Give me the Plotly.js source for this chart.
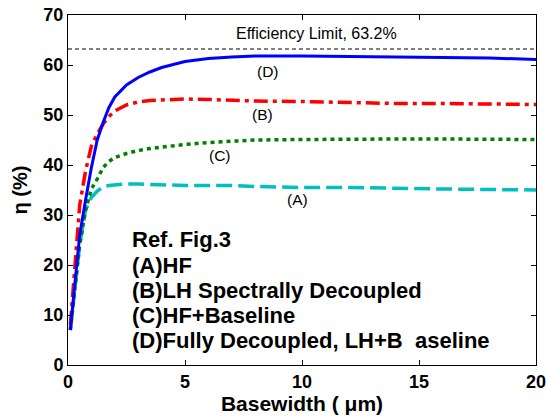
<!DOCTYPE html>
<html><head><meta charset="utf-8">
<script src="https://cdn.plot.ly/plotly-3.0.1.min.js"></script>
<style>body{margin:0;padding:0;background:#fff}#chart{width:546px;height:417px}</style>
</head><body><div id="chart"></div>
<script>
const basewidth = [0.1, 0.3, 0.5, 0.75, 1, 1.25, 1.5, 1.75, 2, 2.5, 3, 3.5, 4, 5, 6, 7, 8, 10, 12, 14, 16, 18, 20];
const effA = [7, 16, 24, 31, 33.5, 34.8, 35.6, 35.9, 36, 36.2, 36.2, 36.1, 36, 35.9, 35.9, 35.9, 35.7, 35.5, 35.5, 35.3, 35.2, 35.1, 35];
const effB = [8, 21, 32, 38.8, 43.8, 46.2, 48.2, 49.7, 50.8, 52, 52.6, 52.9, 53, 53.2, 53.1, 52.9, 52.8, 52.7, 52.5, 52.3, 52.3, 52.2, 52.1];
const effC = [7, 16, 24, 31, 35.2, 37.2, 39.5, 40.7, 41.5, 42.3, 42.9, 43.3, 43.6, 44.1, 44.5, 44.8, 45, 45.1, 45.2, 45.2, 45.2, 45.1, 45.1];
const effD = [7, 17, 26, 33, 39.5, 45, 48.5, 51.5, 53.6, 56, 57.5, 58.6, 59.5, 60.7, 61.3, 61.6, 61.8, 61.8, 61.7, 61.6, 61.5, 61.4, 61.1];
const limitX = [0, 20];
const limitY = [63.2, 63.2];
const limitLabel = "Efficiency Limit, 63.2%";
const curveLabels = [
  {text: "(D)", x: 8.55, y: 58.8},
  {text: "(B)", x: 8.3, y: 50.2},
  {text: "(C)", x: 6.5, y: 42},
  {text: "(A)", x: 9.8, y: 33.2}
];
const legendLines = ["Ref. Fig.3", "(A)HF", "(B)LH Spectrally Decoupled", "(C)HF+Baseline", "(D)Fully Decoupled, LH+B  aseline"];
const legendY = [25.2, 20.0, 15.0, 10.0, 5.0];

const FONT = "Liberation Sans, Arial, Helvetica, sans-serif";
const traces = [
  {x: limitX, y: limitY, mode: "lines", line: {color: "#000", width: 1, dash: "4px,3px"}},
  {x: basewidth, y: effA, mode: "lines", line: {color: "#00bfbf", width: 3.5, dash: "16px,6px"}},
  {x: basewidth, y: effC, mode: "lines", line: {color: "#008000", width: 3.5, dash: "4px,4px"}},
  {x: basewidth, y: effB, mode: "lines", line: {color: "#ff0000", width: 3.5, dash: "14px,5px,4px,5px"}},
  {x: basewidth, y: effD, mode: "lines", line: {color: "#0000ff", width: 3}}
];

const annotations = [];
annotations.push({x: 10.6, y: 66.3, xref: "x", yref: "y", text: limitLabel, showarrow: false,
  font: {family: FONT, size: 16, color: "#000"}});
curveLabels.forEach(c => annotations.push({x: c.x, y: c.y, xref: "x", yref: "y", text: c.text, showarrow: false,
  font: {family: FONT, size: 15.5, color: "#000"}}));
legendLines.forEach((t, i) => annotations.push({x: 2.67, y: legendY[i], xref: "x", yref: "y", xanchor: "left", text: "<b>" + t + "</b>", showarrow: false,
  font: {family: FONT, size: 22, color: "#000"}}));

const axisFont = {family: FONT, size: 18, color: "#000", weight: "bold"};
const layout = {
  width: 546, height: 417,
  margin: {l: 68, r: 10, t: 15, b: 52},
  paper_bgcolor: "#fff", plot_bgcolor: "#fff",
  showlegend: false,
  xaxis: {range: [0, 20], tickvals: [0, 5, 10, 15, 20], ticks: "inside", ticklen: 5, tickwidth: 1, tickcolor: "#000",
    showline: true, linecolor: "#000", linewidth: 1, mirror: "ticks", showgrid: false, zeroline: false,
    tickfont: axisFont, ticklabeloverflow: "allow",
    title: {text: "Basewidth ( μm)", font: {family: FONT, size: 21, color: "#000", weight: "bold"}, standoff: 0}},
  yaxis: {range: [0, 70], tickvals: [0, 10, 20, 30, 40, 50, 60, 70], ticks: "inside", ticklen: 5, tickwidth: 1, tickcolor: "#000",
    showline: true, linecolor: "#000", linewidth: 1, mirror: "ticks", showgrid: false, zeroline: false,
    tickfont: axisFont, ticklabeloverflow: "allow",
    title: {text: "η (%)", font: {family: FONT, size: 20, color: "#000", weight: "bold"}, standoff: 10}},
  annotations: annotations
};
Plotly.newPlot("chart", traces, layout, {displayModeBar: false, staticPlot: true});
</script></body></html>
